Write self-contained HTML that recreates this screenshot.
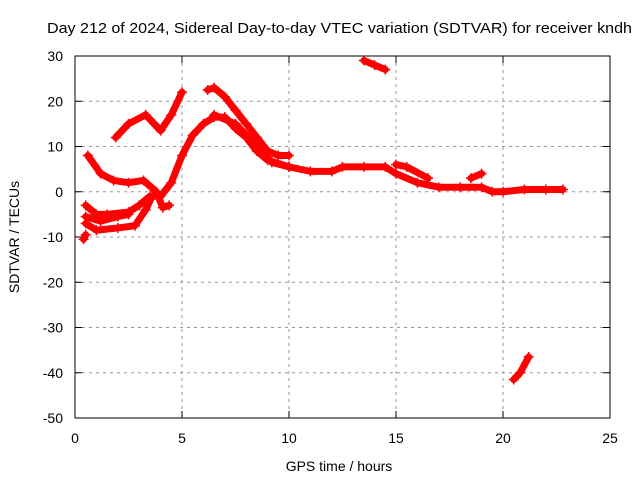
<!DOCTYPE html>
<html><head><meta charset="utf-8"><style>
body{margin:0;background:#fff}
svg{display:block;font-family:"Liberation Sans",sans-serif}
</style></head><body>
<svg id="c" width="640" height="480">
<rect width="640" height="480" fill="#fff"/>
<text x="47" y="33" font-size="15" textLength="585" lengthAdjust="spacingAndGlyphs">Day 212 of 2024, Sidereal Day-to-day VTEC variation (SDTVAR) for receiver kndh</text>
<text x="339" y="471" font-size="14" text-anchor="middle">GPS time / hours</text>
<text transform="translate(19,237) rotate(-90)" font-size="14" text-anchor="middle">SDTVAR / TECUs</text>
<g id="grid"></g><g id="ticks"></g><g id="marks"></g>
<rect x="75" y="56" width="535" height="362" fill="none" stroke="#000"/>
</svg>
<script>
const xTicks=[0,5,10,15,20,25];
const yTicks=[30,20,10,0,-10,-20,-30,-40,-50];
const seriesA=[[1.9,12],[2.5,15],[3.3,17],[4.0,13.5],[4.5,17],[5.0,22]];
const seriesB=[[0.6,8],[1.2,4],[1.8,2.5],[2.5,2],[3.2,2.5],[3.8,0],[4.1,-3.5],[4.4,-3]];
const seriesMain=[[0.5,-3],[1,-5],[1.5,-5],[2.5,-4.5],[3,-3],[3.5,-1],[4,-1],[4.5,2],[5,8],[5.5,12.5],[6,15],[6.5,16.5],[7,16.5],[7.5,14],[8,12],[8.5,9],[9,7],[10,5.5],[11,4.5],[12,4.5],[12.5,5.5],[13.5,5.5],[14.5,5.5],[15,4],[16,2],[17,1],[18,1],[19,1],[19.5,0],[20,0],[21,0.5],[22,0.5],[22.8,0.5]];
const seriesUpper=[[6.2,22.5],[6.5,23],[7,21],[7.5,18],[8,15],[8.5,12],[9,9],[9.5,8],[10,8]];
const seriesMid=[[6.5,17],[7.5,15],[8.5,10],[9.2,6.5],[10,5.5]];
const seriesD=[[0.5,-7],[1,-8.5],[2,-8],[2.8,-7.5],[3.3,-4],[3.6,-1]];
const seriesE=[[0.4,-10.5],[0.5,-9.5]];
const seriesF=[[0.5,-5.5],[1.2,-6.5],[2,-5.5],[2.5,-5]];
const seriesG=[[15,6],[15.5,5.5],[16.5,3]];
const seriesH=[[18.5,3],[19,4]];
const seriesI=[[13.5,29],[14,28],[14.5,27]];
const seriesJ=[[20.5,-41.5],[20.8,-40],[21.2,-36.5]];
const allSeries=[seriesA,seriesB,seriesMain,seriesUpper,seriesMid,seriesD,seriesE,seriesF,seriesG,seriesH,seriesI,seriesJ];
const X=v=>75+v*535/25, Y=v=>56+(30-v)*362/80;
const NS='http://www.w3.org/2000/svg';
function mk(t,a,p){const e=document.createElementNS(NS,t);for(const k in a)e.setAttribute(k,a[k]);p.appendChild(e);return e;}
const g=document.getElementById('grid'),tk=document.getElementById('ticks'),m=document.getElementById('marks');
xTicks.forEach(v=>{
 if(v>0&&v<25){const l=mk('line',{x1:X(v),x2:X(v),y1:56,y2:418,stroke:'#999','stroke-dasharray':'3,4'},g);
 }
 mk('line',{x1:X(v),x2:X(v),y1:418,y2:411,stroke:'#000'},tk);mk('line',{x1:X(v),x2:X(v),y1:56,y2:63,stroke:'#000'},tk);
 const t=mk('text',{x:X(v),y:443,'font-size':14,'text-anchor':'middle'},tk);t.textContent=v;
 
});
yTicks.forEach(v=>{
 if(v<30&&v>-50){const l=mk('line',{x1:75,x2:610,y1:Y(v),y2:Y(v),stroke:'#999','stroke-dasharray':'3,4'},g);
 }
 mk('line',{x1:75,x2:82,y1:Y(v),y2:Y(v),stroke:'#000'},tk);mk('line',{x1:603,x2:610,y1:Y(v),y2:Y(v),stroke:'#000'},tk);
 const t=mk('text',{x:63,y:Y(v)+5,'font-size':14,'text-anchor':'end'},tk);t.textContent=v;
 
});
allSeries.forEach(s=>{
 const p=mk('polyline',{points:s.map(d=>X(d[0])+','+Y(d[1])).join(' '),fill:'none',stroke:'#f00','stroke-width':7,'stroke-linejoin':'round','stroke-linecap':'round'},m);
 
 s.forEach(d=>{const x=X(d[0]),y=Y(d[1]);
  const q=mk('path',{d:`M${x-5},${y}h10M${x},${y-5}v10`,stroke:'#f00','stroke-width':1.5},m);
  });
});
</script>
</body></html>
